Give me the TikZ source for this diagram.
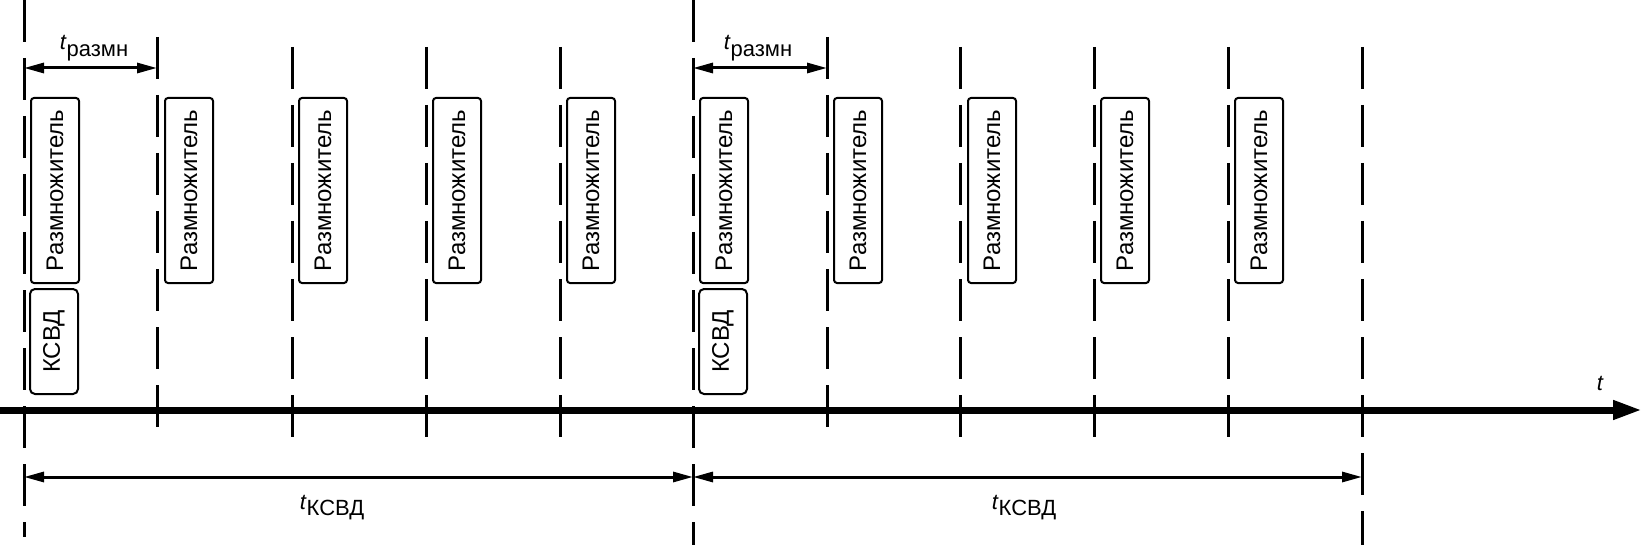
\documentclass[tikz,border=0pt]{standalone}
\usepackage{fontspec}
\setmainfont{Liberation Sans}
\usetikzlibrary{arrows.meta, positioning}
\tikzset{
  blk/.style={rectangle, draw=black, line width=1pt, rotate=90, inner sep=0pt, align=center, font=\fontsize{12}{14}\selectfont, minimum height=24pt},
  mult/.style={blk, rounded corners=1.5pt, minimum width=92.5pt},
  ksvd/.style={blk, rounded corners=2.5pt, minimum width=52.5pt},
  vline/.style={line width=1.5pt, dash pattern=on 21pt off 8pt},
  dimarr/.style={{Triangle[length=10pt,width=5pt]}-{Triangle[length=10pt,width=5pt]}, line width=1.5pt},
  taxis/.style={-{Triangle[length=14.5pt,width=9pt]}, line width=3.5pt},
  lab/.style={font=\fontsize{11}{13}\selectfont, inner sep=0pt},
}

\begin{document}
\begin{tikzpicture}[x=0.5pt, y=-0.5pt]
  \useasboundingbox (0,0) rectangle (1642,545);

  % cycle boundaries
  \draw[vline] (24,0) -- (24,537);
  \draw[vline] (693,0) -- (693,545);
  \draw[vline] (1362,47) -- (1362,545);

  % multiplier steps
  \draw[vline] (157,37) -- (157,432);
  \draw[vline] (292,47) -- (292,437);
  \draw[vline] (426,47) -- (426,437);
  \draw[vline] (560,47) -- (560,437);
  \draw[vline] (827,37) -- (827,432);
  \draw[vline] (960,47) -- (960,437);
  \draw[vline] (1094,47) -- (1094,437);
  \draw[vline] (1228,47) -- (1228,437);

  % time axis
  \coordinate (a0) at (0,410);
  \coordinate (a1) at (1642,410);
  \draw[taxis] (a0) -- (a1);
  \node[lab, font=\fontsize{11}{13}\selectfont\itshape] (tax) at (1600,383) {t};

  % blocks
  \node[mult] (r1) at (55,190.5) {Размножитель};
  \node[mult] (r2) at (189,190.5) {Размножитель};
  \node[mult] (r3) at (323,190.5) {Размножитель};
  \node[mult] (r4) at (457,190.5) {Размножитель};
  \node[mult] (r5) at (591,190.5) {Размножитель};
  \node[mult] (r6) at (724,190.5) {Размножитель};
  \node[mult] (r7) at (858,190.5) {Размножитель};
  \node[mult] (r8) at (992,190.5) {Размножитель};
  \node[mult] (r9) at (1125,190.5) {Размножитель};
  \node[mult] (r10) at (1259,190.5) {Размножитель};

  \node[ksvd] (k1) at (54,341.5) {КСВД};
  \node[ksvd] (k2) at (723,341.5) {КСВД};

  % t_razmn
  \coordinate (p0) at (24,68);
  \coordinate (p1) at (157,68);
  \coordinate (p2) at (693,68);
  \coordinate (p3) at (827,68);
  \draw[dimarr] (p0) -- (p1);
  \draw[dimarr] (p2) -- (p3);
  \node[lab] (tr1) at (94,48) {\textit{t}\raisebox{-3.5pt}{размн}};
  \node[lab] (tr2) at (758,48) {\textit{t}\raisebox{-3.5pt}{размн}};

  % t_ksvd
  \coordinate (q0) at (24,477);
  \coordinate (q1) at (693,477);
  \coordinate (q2) at (1362,477);
  \draw[dimarr] (q0) -- (q1);
  \draw[dimarr] (q1) -- (q2);
  \node[lab] (tk1) at (332,508) {\textit{t}\raisebox{-3pt}{КСВД}};
  \node[lab] (tk2) at (1024,508) {\textit{t}\raisebox{-3pt}{КСВД}};
\end{tikzpicture}
\end{document}
